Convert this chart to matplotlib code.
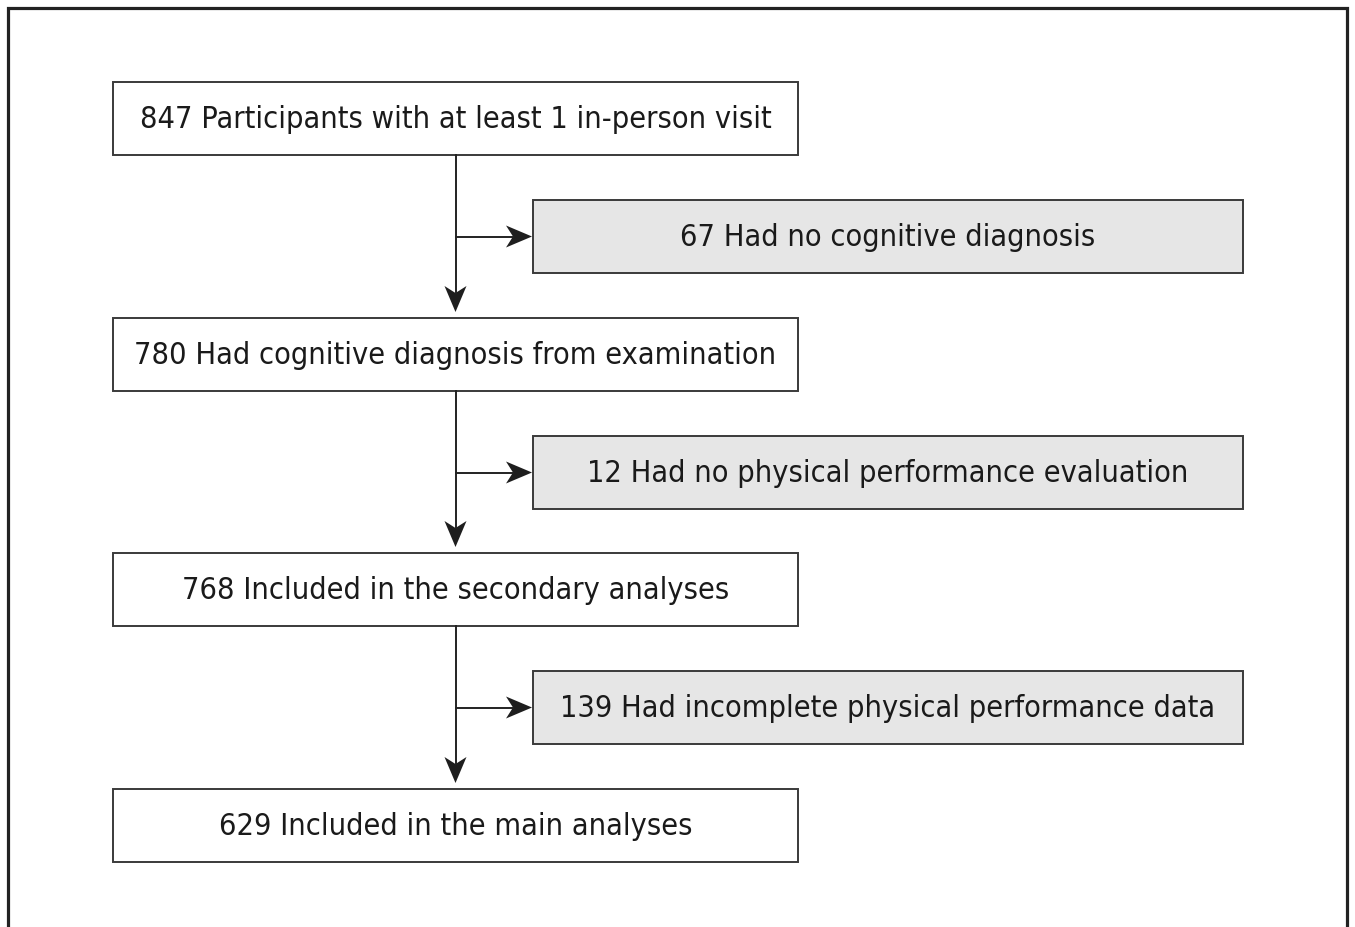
import matplotlib
matplotlib.use("Agg")
import matplotlib.pyplot as plt
from matplotlib.patches import Rectangle, Polygon

# Data
main_counts = [847, 780, 768, 629]
main_labels = ["Participants with at least 1 in-person visit",
               "Had cognitive diagnosis from examination",
               "Included in the secondary analyses",
               "Included in the main analyses"]
excl_counts = [67, 12, 139]
excl_labels = ["Had no cognitive diagnosis",
               "Had no physical performance evaluation",
               "Had incomplete physical performance data"]

W, H = 1355, 927
fig = plt.figure(figsize=(W / 100, H / 100), dpi=100)
ax = fig.add_axes([0, 0, 1, 1])
ax.set_xlim(0, W)
ax.set_ylim(H, 0)
ax.axis("off")

# outer frame (open at bottom)
ax.plot([8, 8, 1347, 1347], [H + 5, 8, 8, H + 5], color="#222222", lw=2.3,
        solid_joinstyle="miter")

main_x0, main_x1 = 113, 798
main_y = [82, 318, 553, 789]
box_h = 73
ex_x0, ex_x1 = 533, 1243
ex_y = [200, 436, 671]
fs = 22
txt_kw = dict(ha="center", va="center", fontsize=fs, family="DejaVu Sans",
              fontstretch="condensed", color="#1a1a1a")
cx = (main_x0 + main_x1) / 2

for y, c, l in zip(main_y, main_counts, main_labels):
    ax.add_patch(Rectangle((main_x0, y), main_x1 - main_x0, box_h, facecolor="white",
                           edgecolor="#3a3a3a", lw=1.4))
    ax.text(cx, y + box_h / 2 + 1, f"{c} {l}", **txt_kw)

for y, c, l in zip(ex_y, excl_counts, excl_labels):
    ax.add_patch(Rectangle((ex_x0, y), ex_x1 - ex_x0, box_h, facecolor="#e6e6e6",
                           edgecolor="#3a3a3a", lw=1.4))
    ax.text((ex_x0 + ex_x1) / 2, y + box_h / 2 + 1, f"{c} {l}", **txt_kw)


def arrow(x0, y0, x1, y1, hl=26, hw=11, notch=7):
    dx, dy = x1 - x0, y1 - y0
    L = (dx * dx + dy * dy) ** 0.5
    ux, uy = dx / L, dy / L
    px, py = -uy, ux
    bx, by = x1 - ux * hl, y1 - uy * hl
    ax.plot([x0, bx + ux * notch], [y0, by + uy * notch], color="#222222", lw=1.4)
    pts = [(x1, y1), (bx + px * hw, by + py * hw), (bx + ux * notch, by + uy * notch),
           (bx - px * hw, by - py * hw)]
    ax.add_patch(Polygon(pts, closed=True, facecolor="#1e1e1e", edgecolor="none"))


for i in range(3):
    ytop = main_y[i] + box_h
    ybot = main_y[i + 1] - 6
    arrow(cx, ytop, cx, ybot)
    ym = ex_y[i] + box_h / 2
    arrow(cx, ym, ex_x0 - 1, ym)

fig.savefig("out.png", dpi=100, facecolor="white")
